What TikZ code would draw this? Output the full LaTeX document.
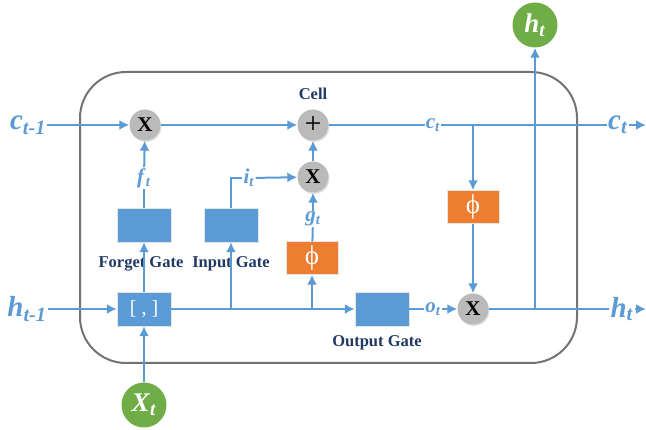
\documentclass[tikz,border=0pt]{standalone}
\usepackage{fontspec}
\setmainfont{Liberation Serif}
\usetikzlibrary{arrows.meta,shadows}
\definecolor{lineblue}{HTML}{5B9BD5}
\definecolor{boxblue}{HTML}{5B9BD5}
\definecolor{gateorange}{HTML}{ED7D31}
\definecolor{iogreen}{HTML}{70AD47}
\definecolor{labelnavy}{HTML}{1F3864}
\newcommand{\lsym}[2]{\textbf{\textit{#1}}\textsubscript{\textbf{\textit{#2}}}}
\tikzset{
  flow/.style={draw=lineblue, line width=2pt},
  arr/.style={-{Latex[length=10pt,width=10pt]}},
  opcirc/.style={circle, fill=black!27, minimum size=31pt, inner sep=0pt,
    drop shadow={opacity=0.25, shadow xshift=1pt, shadow yshift=-1.5pt},
    font=\fontsize{21}{21}\selectfont\bfseries},
  gatebox/.style={rectangle, fill=boxblue, draw=black!10, minimum width=54pt, minimum height=34pt,
    text=white, font=\fontsize{20}{20}\selectfont},
  phibox/.style={rectangle, fill=gateorange, draw=black!10, minimum width=52pt, minimum height=33pt,
    text=white, font=\fontsize{27}{27}\selectfont},
  iocirc/.style={circle, fill=iogreen, minimum size=45pt, inner sep=0pt,
    text=white, font=\fontsize{27}{27}\selectfont},
  gatelbl/.style={text=labelnavy, font=\fontsize{16.5}{17}\selectfont\bfseries},
  bigsym/.style={text=lineblue, inner sep=1pt, font=\fontsize{29}{29}\selectfont},
  smallsym/.style={text=lineblue, inner sep=1pt, font=\fontsize{21}{21}\selectfont},
}
\begin{document}
\begin{tikzpicture}[x=1pt, y=-1pt]
\useasboundingbox (0,0) rectangle (646,430);
% cell frame
\draw[black!55, line width=2pt, rounded corners=46pt] (80,72) rectangle (577,363);

% operators
\node[opcirc] (mulf) at (145,125) {X};
\node[opcirc, font=\fontsize{30}{30}\selectfont] (add) at (313,125) {+};
\node[opcirc] (muli) at (313,177) {X};
\node[opcirc] (mulo) at (473,309) {X};

% gates
\node[gatebox] (forget) at (144,225) {};
\node[gatebox] (input) at (231,225) {};
\node[gatebox] (output) at (382,309) {};
\node[gatebox] (concat) at (144,309) {[ , ]};
\node[phibox] (tanhg) at (312,258) {\char"03D5};
\node[phibox] (tanhc) at (473,207) {\char"03D5};

% inputs and outputs
\node[iocirc] (xt) at (144,405) {\lsym{X}{t}};
\node[iocirc] (htop) at (535,25) {\lsym{h}{t}};

% labels
\node[gatelbl] at (313,94) {Cell};
\node[gatelbl] at (141,264) {Forget Gate};
\node[gatelbl] at (231,264) {Input Gate};
\node[gatelbl] at (377,343) {Output Gate};
\node[bigsym] (cprev) at (28,125) {\lsym{c}{t-1}};
\node[bigsym] (hprev) at (27,309) {\lsym{h}{t-1}};
\node[bigsym] (cout) at (618,125) {\lsym{c}{t}};
\node[bigsym] (hout) at (622,309) {\lsym{h}{t}};
\node[smallsym] (ct) at (433,125) {\lsym{c}{t}};
\node[smallsym] (ft) at (144,178) {\lsym{f}{t}};
\node[smallsym] (it) at (249,178) {\lsym{i}{t}};
\node[smallsym] (gt) at (313,219) {\lsym{g}{t}};
\node[smallsym] (ot) at (433,309) {\lsym{o}{t}};

\coordinate (cend) at (646,125);
\coordinate (hend) at (646,309);
\coordinate (cbr) at (473,125);
\coordinate (hbr) at (535,309);
\coordinate (ibr) at (231,309);
\coordinate (gbr) at (312,309);

% cell state
\draw[flow, arr] (cprev) -- (mulf);
\draw[flow, arr] (mulf) -- (add);
\draw[flow] (add) -- (ct) -- (cout);
\draw[flow, arr] (cout) -- (cend);
\draw[flow, arr] (cbr) -- (tanhc);
\draw[flow, arr] (tanhc) -- (mulo);

% gates
\draw[flow, arr] (hprev) -- (concat);
\draw[flow, arr] (xt) -- (concat);
\draw[flow, arr] (concat) -- (forget);
\draw[flow] (forget) -- (ft);
\draw[flow, arr] (ft) -- (mulf);
\draw[flow, arr] (concat) -- (output);
\draw[flow, arr] (ibr) -- (input);
\draw[flow, arr] (gbr) -- (tanhg);
\draw[flow] (input.north) |- (it);
\draw[flow, arr] (it) -- (muli);
\draw[flow] (tanhg) -- (gt);
\draw[flow, arr] (gt) -- (muli);
\draw[flow, arr] (muli) -- (add);
\draw[flow] (output) -- (ot);
\draw[flow, arr] (ot) -- (mulo);

% hidden state
\draw[flow] (mulo) -- (hout);
\draw[flow, arr] (hout) -- (hend);
\draw[flow, arr] (hbr) -- (htop);
\end{tikzpicture}
\end{document}
